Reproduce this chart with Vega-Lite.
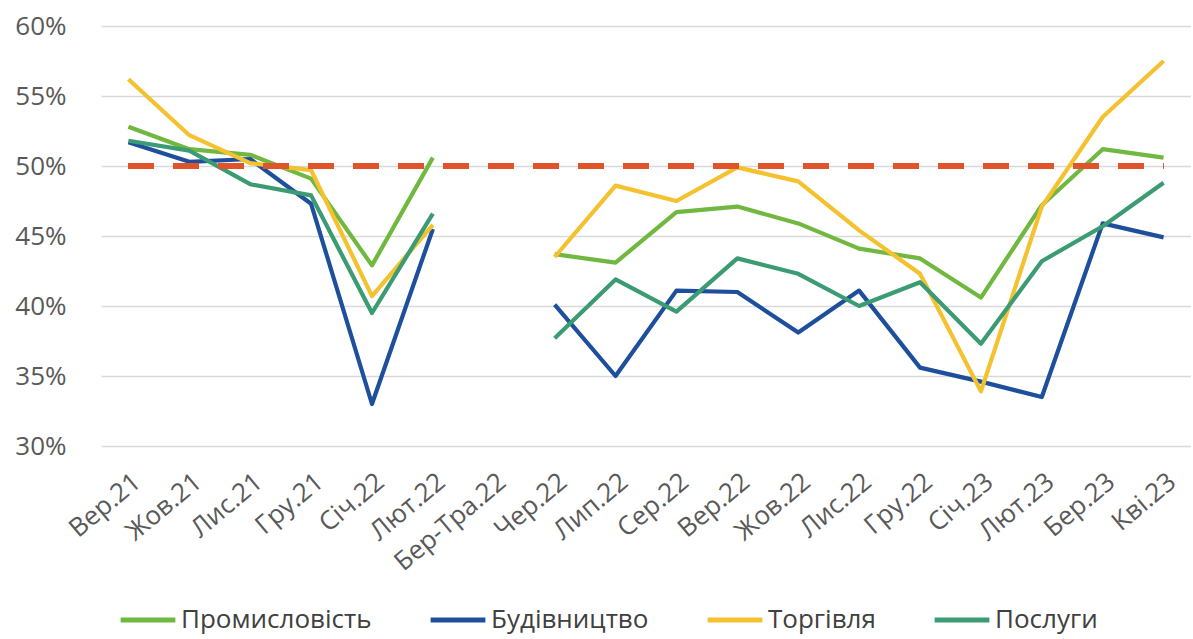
{
  "$schema": "https://vega.github.io/schema/vega-lite/v6.json",
  "width": 1090,
  "height": 420,
  "padding": {"left": 14, "top": 13, "right": 0, "bottom": 12},
  "background": "white",
  "config": {
    "view": {"stroke": null},
    "font": "Open Sans"
  },
  "data": {
    "values": [
      {"m": "Вер.21", "g": 1, "Промисловість": 52.8, "Будівництво": 51.7, "Торгівля": 56.2, "Послуги": 51.8},
      {"m": "Жов.21", "g": 1, "Промисловість": 51.2, "Будівництво": 50.3, "Торгівля": 52.2, "Послуги": 51.1},
      {"m": "Лис.21", "g": 1, "Промисловість": 50.8, "Будівництво": 50.5, "Торгівля": 50.2, "Послуги": 48.7},
      {"m": "Гру.21", "g": 1, "Промисловість": 49.1, "Будівництво": 47.3, "Торгівля": 49.7, "Послуги": 47.9},
      {"m": "Січ.22", "g": 1, "Промисловість": 42.9, "Будівництво": 33.0, "Торгівля": 40.7, "Послуги": 39.5},
      {"m": "Лют.22", "g": 1, "Промисловість": 50.6, "Будівництво": 45.5, "Торгівля": 45.8, "Послуги": 46.6},
      {"m": "Чер.22", "g": 2, "Промисловість": 43.7, "Будівництво": 40.1, "Торгівля": 43.5, "Послуги": 37.7},
      {"m": "Лип.22", "g": 2, "Промисловість": 43.1, "Будівництво": 35.0, "Торгівля": 48.6, "Послуги": 41.9},
      {"m": "Сер.22", "g": 2, "Промисловість": 46.7, "Будівництво": 41.1, "Торгівля": 47.5, "Послуги": 39.6},
      {"m": "Вер.22", "g": 2, "Промисловість": 47.1, "Будівництво": 41.0, "Торгівля": 49.9, "Послуги": 43.4},
      {"m": "Жов.22", "g": 2, "Промисловість": 45.9, "Будівництво": 38.1, "Торгівля": 48.9, "Послуги": 42.3},
      {"m": "Лис.22", "g": 2, "Промисловість": 44.1, "Будівництво": 41.1, "Торгівля": 45.4, "Послуги": 40.0},
      {"m": "Гру.22", "g": 2, "Промисловість": 43.4, "Будівництво": 35.6, "Торгівля": 42.3, "Послуги": 41.7},
      {"m": "Січ.23", "g": 2, "Промисловість": 40.6, "Будівництво": 34.6, "Торгівля": 33.9, "Послуги": 37.3},
      {"m": "Лют.23", "g": 2, "Промисловість": 47.2, "Будівництво": 33.5, "Торгівля": 47.1, "Послуги": 43.2},
      {"m": "Бер.23", "g": 2, "Промисловість": 51.2, "Будівництво": 45.9, "Торгівля": 53.5, "Послуги": 45.7},
      {"m": "Кві.23", "g": 2, "Промисловість": 50.6, "Будівництво": 44.9, "Торгівля": 57.5, "Послуги": 48.8}
    ]
  },
  "layer": [
    {
      "transform": [
        {"fold": ["Промисловість", "Будівництво", "Торгівля", "Послуги"], "as": ["s", "v"]}
      ],
      "mark": {"type": "line", "strokeWidth": 4.2, "strokeJoin": "round"},
      "encoding": {
        "x": {
          "field": "m",
          "type": "ordinal",
          "scale": {
            "type": "point",
            "padding": 0.45,
            "domain": ["Вер.21", "Жов.21", "Лис.21", "Гру.21", "Січ.22", "Лют.22", "Бер-Тра.22", "Чер.22", "Лип.22", "Сер.22", "Вер.22", "Жов.22", "Лис.22", "Гру.22", "Січ.23", "Лют.23", "Бер.23", "Кві.23"]
          },
          "axis": {
            "title": null,
            "domain": false,
            "ticks": false,
            "labelAngle": -40,
            "labelFontSize": 26,
            "labelColor": "#595959",
            "labelPadding": 22,
            "grid": false
          }
        },
        "y": {
          "field": "v",
          "type": "quantitative",
          "scale": {"domain": [30, 60], "nice": false, "zero": false},
          "axis": {
            "title": null,
            "values": [30, 35, 40, 45, 50, 55, 60],
            "labelExpr": "datum.value + '%'",
            "domain": false,
            "ticks": false,
            "labelFontSize": 26,
            "labelColor": "#595959",
            "labelPadding": 35,
            "gridColor": "#d9d9d9",
            "gridWidth": 1.5
          }
        },
        "color": {
          "field": "s",
          "type": "nominal",
          "scale": {
            "domain": ["Промисловість", "Будівництво", "Торгівля", "Послуги"],
            "range": ["#71b840", "#1d4f9c", "#f4c12f", "#3b9b73"]
          },
          "legend": {
            "title": null,
            "orient": "none",
            "direction": "horizontal",
            "legendX": 17,
            "legendY": 564,
            "symbolType": "stroke",
            "symbolSize": 3000,
            "symbolStrokeWidth": 5,
            "labelFontSize": 26,
            "labelColor": "#404040",
            "labelOffset": 3,
            "columnPadding": 48,
            "labelLimit": 400
          }
        },
        "detail": {"field": "g"}
      }
    },
    {
      "mark": {"type": "rule", "color": "#e0542c", "strokeWidth": 5, "strokeDash": [25, 20]},
      "encoding": {
        "x": {"datum": "Вер.21"},
        "x2": {"datum": "Кві.23"},
        "y": {"datum": 50}
      }
    }
  ]
}
